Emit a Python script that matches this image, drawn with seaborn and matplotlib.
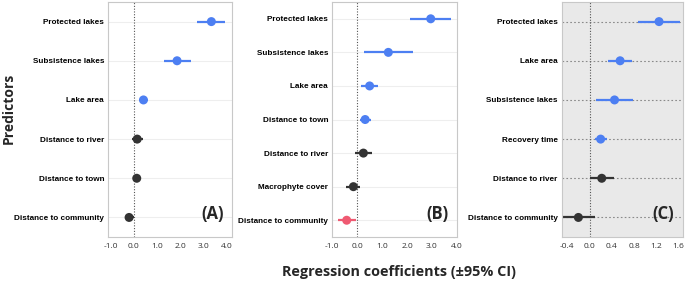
import numpy as np
import pandas as pd
import matplotlib
matplotlib.use("Agg")
import matplotlib.pyplot as plt
import seaborn as sns

sns.set_style("white")
plt.rcParams['font.family'] = ['Liberation Sans', 'DejaVu Sans']

# Panel A
a_labels = ["Protected lakes", "Subsistence lakes", "Lake area", "Distance to river",
            "Distance to town", "Distance to community"]
a_coef = [3.35, 1.87, 0.42, 0.15, 0.13, -0.20]
a_lo = [2.75, 1.30, 0.22, -0.08, 0.00, -0.38]
a_hi = [3.92, 2.45, 0.62, 0.38, 0.26, 0.02]
a_sig = ["pos", "pos", "pos", "ns", "ns", "ns"]

# Panel B
b_labels = ["Protected lakes", "Subsistence lakes", "Lake area", "Distance to town",
            "Distance to river", "Macrophyte cover", "Distance to community"]
b_coef = [2.95, 1.25, 0.50, 0.32, 0.25, -0.15, -0.42]
b_lo = [2.12, 0.27, 0.15, 0.10, -0.07, -0.43, -0.75]
b_hi = [3.75, 2.22, 0.85, 0.56, 0.60, 0.12, -0.05]
b_sig = ["pos", "pos", "pos", "pos", "ns", "ns", "neg"]

# Panel C
c_labels = ["Protected lakes", "Lake area", "Subsistence lakes", "Recovery time",
            "Distance to river", "Distance to community"]
c_coef = [1.25, 0.55, 0.45, 0.20, 0.22, -0.20]
c_lo = [0.87, 0.33, 0.12, 0.10, 0.00, -0.47]
c_hi = [1.63, 0.77, 0.78, 0.32, 0.44, 0.10]
c_sig = ["pos", "pos", "pos", "pos", "ns", "ns"]

palette = {"pos": "#4d7ff2", "ns": "#333333", "neg": "#ef5a72"}

fig = plt.figure(figsize=(6.85, 2.88), dpi=100)
boxes = [[0.158, 0.177, 0.181, 0.816],
         [0.485, 0.177, 0.182, 0.816],
         [0.820, 0.177, 0.177, 0.816]]
panels = [
    (a_labels, a_coef, a_lo, a_hi, a_sig, (-1.1, 4.25), [-1, 0, 1, 2, 3, 4], "(A)"),
    (b_labels, b_coef, b_lo, b_hi, b_sig, (-1.0, 4.0), [-1, 0, 1, 2, 3, 4], "(B)"),
    (c_labels, c_coef, c_lo, c_hi, c_sig, (-0.5, 1.68), [-0.4, 0, 0.4, 0.8, 1.2, 1.6], "(C)"),
]

for i, (labels, coef, lo, hi, sig, xlim, ticks, tag) in enumerate(panels):
    ax = fig.add_axes(boxes[i])
    df = pd.DataFrame({"label": labels, "coef": coef, "lo": lo, "hi": hi, "sig": sig})
    n = len(labels)
    ypos = np.arange(n)

    if i == 2:
        ax.set_facecolor("#e9e9e9")
        for y in ypos:
            ax.axhline(y, color="#8a8a8a", lw=0.8, ls=(0, (1.5, 2)), zorder=0)
    else:
        for y in ypos:
            ax.axhline(y, color="#eeeeee", lw=0.8, zorder=0)

    ax.axvline(0, color="#555555", lw=0.8, ls=(0, (1, 1.5)), zorder=1)

    for _, r in df.iterrows():
        ax.plot([r["lo"], r["hi"]], [r.name, r.name], color=palette[r["sig"]],
                lw=1.6, solid_capstyle="butt", zorder=2)
    sns.scatterplot(x=df["coef"], y=ypos, hue=df["sig"], palette=palette, s=42,
                    edgecolor="none", legend=False, ax=ax, zorder=3)

    ax.set_xlim(*xlim)
    ax.set_ylim(n - 0.5, -0.5)
    ax.set_yticks(ypos)
    ax.set_yticklabels(labels, fontsize=5.9, fontweight="bold", color="black")
    ax.set_xticks(ticks)
    ax.set_xticklabels(["{:.1f}".format(t) for t in ticks], fontsize=6,
                       color="#333333", family="Open Sans")
    ax.tick_params(axis="both", length=2, width=0.6, color="#999999", pad=2)
    ax.tick_params(axis="y", length=0, pad=3)
    ax.set_xlabel("")
    ax.set_ylabel("")
    for s in ax.spines.values():
        s.set_color("#c8c8c8")
        s.set_linewidth(0.8)
    ax.text(0.93, 0.06, tag, transform=ax.transAxes, ha="right", va="bottom",
            fontsize=12, fontweight="bold", family="Open Sans")

fig.text(0.013, 0.625, "Predictors", rotation=90, ha="center", va="center",
         fontsize=10, fontweight="bold", family="Open Sans")
fig.text(0.583, 0.055, "Regression coefficients (\u00b195% CI)", ha="center", va="center",
         fontsize=10.4, fontweight="bold", family="Open Sans")

fig.savefig("out.png", dpi=100)
